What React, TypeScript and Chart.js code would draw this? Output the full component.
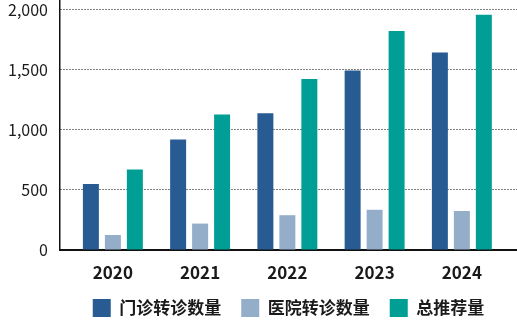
import React, { useEffect, useRef } from "react";
import { Chart, registerables } from "chart.js";

Chart.register(...registerables);

const years = [2020, 2021, 2022, 2023, 2024];
const seriesNames = ["门诊转诊数量", "医院转诊数量", "总推荐量"];
const outpatient = [550, 920, 1140, 1495, 1645];
const hospital = [125, 220, 290, 335, 325];
const total = [670, 1130, 1425, 1825, 1960];
const yTicks = [0, 500, 1000, 1500, 2000];
const colors = ["#285b91", "#94adc9", "#009e94"];

const FONT = "'Noto Sans CJK SC', 'Noto Sans', sans-serif";

export default function App() {
  const ref = useRef<HTMLCanvasElement | null>(null);
  useEffect(() => {
    document.body.style.margin = "0";
    const canvas = ref.current!;
    const series = [outpatient, hospital, total];
    const chart = new Chart(canvas, {
      type: "bar",
      data: {
        datasets: series.map((vals, i) => ({
          label: seriesNames[i],
          data: years.map((yr, j) => ({ x: yr, y: vals[j] })),
          backgroundColor: colors[i],
          borderWidth: 0,
          categoryPercentage: 0.756,
          barPercentage: 0.727,
        })),
      },
      options: {
        responsive: false,
        animation: false,
        devicePixelRatio: 1,
        layout: { padding: { top: 0, right: 0, left: 0, bottom: -6 } },
        plugins: {
          tooltip: { enabled: false },
          legend: {
            position: "bottom",
            fullSize: false,
            labels: {
              boxWidth: 18,
              boxHeight: 18,
              padding: 20,
              color: "#1a1a1a",
              font: { family: FONT, size: 17, weight: "bold" },
            },
          },
        },
        scales: {
          x: {
            type: "linear",
            offset: false,
            min: years[0] - 0.606,
            max: years[years.length - 1] + 0.632,
            afterBuildTicks: (scale: any) => {
              scale.ticks = years.map((v) => ({ value: v }));
            },
            afterFit: (scale: any) => {
              scale.height = 29;
              scale.paddingLeft = 0;
              scale.paddingRight = 0;
            },
            grid: { display: false, drawTicks: false },
            border: { display: true, color: "#111", width: 2 },
            ticks: {
              padding: 12,
              color: "#1a1a1a",
              maxRotation: 0,
              font: { family: FONT, size: 17, weight: "bold" },
              callback: (v: any) => String(v),
            },
          },
          y: {
            min: 0,
            max: 2083,
            afterBuildTicks: (scale: any) => {
              scale.ticks = yTicks.map((v) => ({ value: v }));
            },
            afterFit: (scale: any) => {
              scale.width = 60;
              scale.paddingTop = 0;
              scale.paddingBottom = 0;
            },
            grid: { color: "#000", lineWidth: 1, drawTicks: false },
            border: { display: true, color: "#111", width: 1.5, dash: [1, 2] },
            ticks: {
              padding: 12,
              color: "#1a1a1a",
              font: { family: FONT, size: 16 },
              callback: (v: any) => Number(v).toLocaleString("en-US"),
            },
          },
        },
      },
    } as any);
    return () => chart.destroy();
  }, []);
  return (
    <div style={{ position: "absolute", left: 0, top: 0, width: 517, height: 321 }}>
      <canvas ref={ref} width={517} height={321} />
    </div>
  );
}
